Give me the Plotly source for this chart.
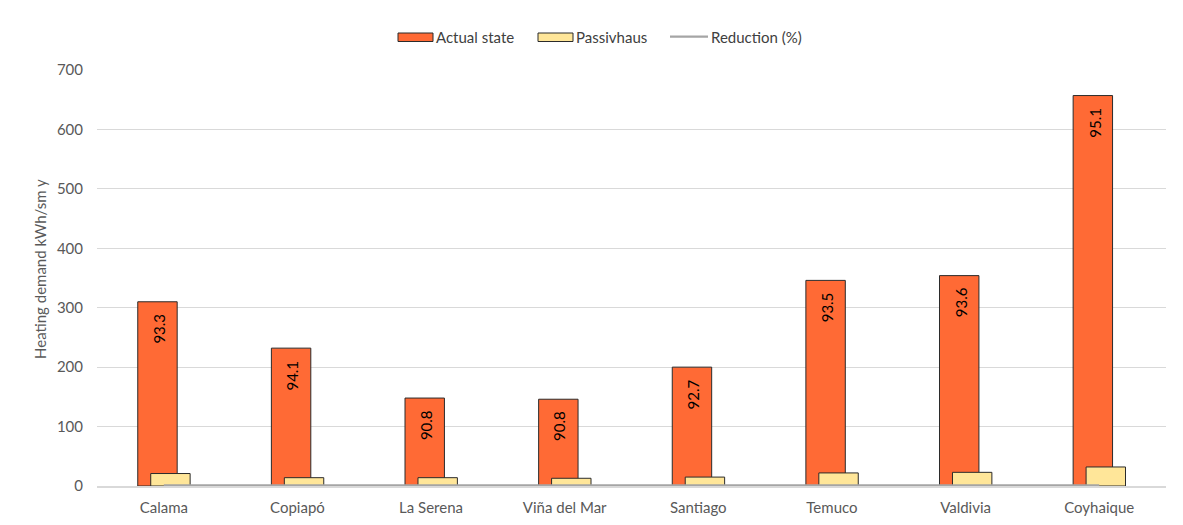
import plotly.graph_objects as go

# Heating demand per city (kWh/m² per year)
cities = ["Calama", "Copiapó", "La Serena", "Viña del Mar", "Santiago", "Temuco", "Valdivia", "Coyhaique"]
actual_state = [310, 232, 148, 146, 200, 346, 354, 657]
passivhaus = [21, 14, 14, 13, 15, 22, 23, 32]
reduction_pct = [93.3, 94.1, 90.8, 90.8, 92.7, 93.5, 93.6, 95.1]

y_ticks = [0, 100, 200, 300, 400, 500, 600, 700]

FONT = "Lato"
GREY_TXT = "#595959"
ORANGE = "#FF6A35"
YELLOW = "#FFE699"
EDGE = "#2B2B2B"
LINE_GREY = "#A5A5A5"

W, H = 1183, 525
ML, MR, MT, MB = 97, 17, 70, 39
PW, PH = W - ML - MR, H - MT - MB


def px_x(px):
    return (px - ML) / PW


def px_y(py):
    return (H - MB - py) / PH


fig = go.Figure()

fig.add_trace(go.Bar(
    x=cities, y=actual_state, name="Actual state",
    marker=dict(color=ORANGE, line=dict(color=EDGE, width=1)),
    offset=-0.195, width=0.295, showlegend=False,
))
fig.add_trace(go.Bar(
    x=cities, y=passivhaus, name="Passivhaus",
    marker=dict(color=YELLOW, line=dict(color=EDGE, width=1)),
    offset=-0.098, width=0.295, showlegend=False,
))
# Reduction shares plotted as fractions on the demand axis
fig.add_trace(go.Scatter(
    x=cities, y=[r / 100 for r in reduction_pct], name="Reduction (%)",
    mode="lines", line=dict(color=LINE_GREY, width=2.25), showlegend=False,
))

annotations = []
# Reduction labels, rotated, inside the top of each "Actual state" bar
for c, a, r in zip(cities, actual_state, reduction_pct):
    annotations.append(dict(
        x=c, y=a, xref="x", yref="y", text=f"{r:.1f}", showarrow=False,
        textangle=-90, yanchor="top", xanchor="center", xshift=-5, yshift=-10,
        font=dict(family=FONT, size=15, color="#000000"),
    ))

# Axis title
annotations.append(dict(
    x=px_x(40), y=px_y(269), xref="paper", yref="paper",
    text="Heating demand kWh/sm y", showarrow=False, textangle=-90,
    xanchor="center", yanchor="middle",
    font=dict(family=FONT, size=15, color=GREY_TXT),
))

# Legend drawn as shapes + labels
legend_y = px_y(37)
shapes = [
    dict(type="rect", xref="paper", yref="paper",
         x0=px_x(398), x1=px_x(433), y0=px_y(41.5), y1=px_y(33),
         fillcolor=ORANGE, line=dict(color=EDGE, width=1)),
    dict(type="rect", xref="paper", yref="paper",
         x0=px_x(538), x1=px_x(573), y0=px_y(41.5), y1=px_y(33),
         fillcolor=YELLOW, line=dict(color=EDGE, width=1)),
    dict(type="line", xref="paper", yref="paper",
         x0=px_x(670), x1=px_x(708), y0=px_y(36.5), y1=px_y(36.5),
         line=dict(color=LINE_GREY, width=2.25)),
]
for label, px in [("Actual state", 434), ("Passivhaus", 574), ("Reduction (%)", 709)]:
    annotations.append(dict(
        x=px_x(px), y=legend_y, xref="paper", yref="paper", text=label,
        showarrow=False, xanchor="left", yanchor="middle",
        font=dict(family=FONT, size=15, color="#404040"),
    ))

fig.update_layout(
    width=W, height=H,
    margin=dict(l=ML, r=MR, t=MT, b=MB),
    barmode="overlay",
    plot_bgcolor="white", paper_bgcolor="white",
    font=dict(family=FONT, size=15, color=GREY_TXT),
    showlegend=False,
    annotations=annotations,
    shapes=shapes,
)
fig.update_xaxes(
    type="category", range=[-0.5, len(cities) - 0.5],
    showline=True, linecolor="#D9D9D9", linewidth=1.5,
    showgrid=False, ticks="", ticklabelstandoff=7, automargin=False,
    tickfont=dict(family=FONT, size=15, color=GREY_TXT),
)
fig.update_yaxes(
    range=[0, 700], tickvals=y_ticks, ticktext=[str(v) for v in y_ticks],
    showgrid=True, gridcolor="#D9D9D9", gridwidth=1, zeroline=False,
    showline=False, ticks="", ticklabelstandoff=13, automargin=False,
    tickfont=dict(family=FONT, size=15, color=GREY_TXT),
)

fig.write_html("out.html")
